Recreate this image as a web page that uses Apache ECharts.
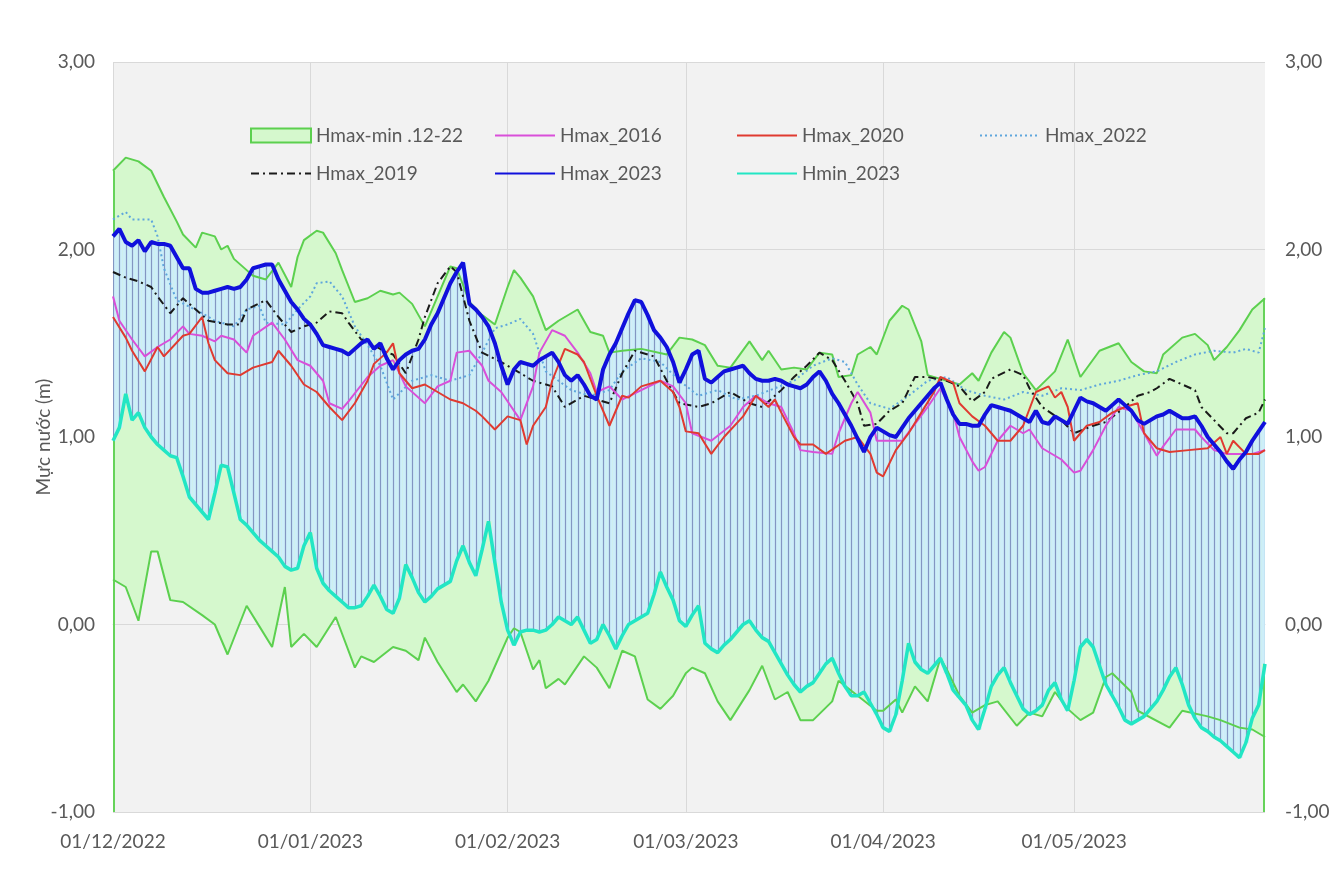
<!DOCTYPE html>
<html>
<head>
<meta charset="utf-8">
<script src="https://cdn.jsdelivr.net/npm/echarts@6/dist/echarts.min.js"></script>
<style>
  html, body { margin: 0; padding: 0; background: #fff; }
  #chart { width: 1339px; height: 896px; }
</style>
</head>
<body>
<div id="chart"></div>
<script>
// ngày: 01/12/2022 .. 31/05/2023
const days = [];
for (let i = 0; i < 182; i++) {
  const d = new Date(Date.UTC(2022, 11, 1 + i));
  const dd = String(d.getUTCDate()).padStart(2, '0');
  const mm = String(d.getUTCMonth() + 1).padStart(2, '0');
  days.push(dd + '/' + mm + '/' + d.getUTCFullYear());
}

// Hmax_2023, Hmin_2023 theo ngày
const hmax2023 = [
  2.07,2.11,2.04,2.02,2.05,1.99,2.04,2.03,2.03,2.02,
  1.96,1.90,1.90,1.79,1.77,1.77,1.78,1.79,1.80,1.79,
  1.80,1.84,1.90,1.91,1.92,1.92,1.84,1.78,1.72,1.68,
  1.63,1.60,1.55,1.49,1.48,1.47,1.46,1.44,1.47,1.50,
  1.52,1.47,1.50,1.42,1.36,1.41,1.44,1.46,1.47,1.52,
  1.60,1.66,1.74,1.82,1.88,1.93,1.71,1.68,1.64,1.59,
  1.50,1.38,1.28,1.36,1.40,1.39,1.38,1.41,1.43,1.45,
  1.40,1.33,1.30,1.33,1.28,1.22,1.20,1.36,1.44,1.50,
  1.58,1.66,1.73,1.72,1.65,1.57,1.53,1.48,1.40,1.29,
  1.36,1.44,1.46,1.31,1.29,1.32,1.35,1.36,1.37,1.38,
  1.34,1.31,1.30,1.30,1.31,1.30,1.28,1.27,1.26,1.28,
  1.32,1.35,1.30,1.23,1.18,1.12,1.06,0.99,0.92,1.00,
  1.05,1.03,1.01,1.00,1.05,1.10,1.14,1.18,1.22,1.26,
  1.29,1.20,1.12,1.07,1.07,1.06,1.06,1.12,1.17,1.16,
  1.15,1.14,1.12,1.10,1.08,1.14,1.08,1.07,1.11,1.09,
  1.07,1.14,1.21,1.19,1.18,1.16,1.14,1.17,1.20,1.17,
  1.14,1.09,1.07,1.09,1.11,1.12,1.14,1.12,1.10,1.10,
  1.11,1.06,1.00,0.96,0.92,0.87,0.83,0.88,0.92,0.98,
  1.03,1.08
];
const hmin2023 = [
  0.98,1.05,1.23,1.09,1.13,1.05,1.00,0.96,0.93,0.90,
  0.89,0.79,0.68,0.64,0.60,0.56,0.70,0.85,0.84,0.70,
  0.56,0.53,0.49,0.45,0.42,0.39,0.36,0.31,0.29,0.30,
  0.42,0.49,0.30,0.22,0.18,0.15,0.12,0.09,0.09,0.10,
  0.15,0.21,0.15,0.08,0.06,0.14,0.32,0.25,0.17,0.12,
  0.15,0.19,0.21,0.23,0.34,0.42,0.33,0.26,0.40,0.55,
  0.33,0.12,-0.03,-0.11,-0.04,-0.03,-0.03,-0.04,-0.03,0.00,
  0.04,0.02,0.00,0.04,-0.03,-0.10,-0.08,0.00,-0.06,-0.13,
  -0.06,0.00,0.02,0.04,0.06,0.16,0.28,0.20,0.13,0.02,
  -0.01,0.05,0.10,-0.10,-0.13,-0.15,-0.11,-0.08,-0.04,0.00,
  0.02,-0.03,-0.07,-0.09,-0.15,-0.21,-0.27,-0.32,-0.36,-0.33,
  -0.31,-0.26,-0.21,-0.18,-0.26,-0.33,-0.38,-0.38,-0.36,-0.42,
  -0.48,-0.55,-0.57,-0.48,-0.30,-0.10,-0.20,-0.24,-0.26,-0.22,
  -0.18,-0.26,-0.35,-0.39,-0.43,-0.51,-0.56,-0.45,-0.33,-0.27,
  -0.23,-0.31,-0.38,-0.45,-0.48,-0.46,-0.43,-0.35,-0.31,-0.40,
  -0.46,-0.30,-0.12,-0.08,-0.12,-0.22,-0.32,-0.38,-0.44,-0.51,
  -0.53,-0.51,-0.49,-0.45,-0.41,-0.35,-0.28,-0.23,-0.32,-0.43,
  -0.50,-0.55,-0.57,-0.60,-0.62,-0.65,-0.68,-0.71,-0.63,-0.50,
  -0.43,-0.21
];

// Dải Hmax-min 12-22: [chỉ số ngày, giá trị]
const bandTop = [
  [0,2.42],[2,2.49],[4,2.47],[6,2.42],[8,2.28],[10,2.15],[11,2.08],[13,2.01],[14,2.09],[16,2.07],
  [17,2.00],[18,2.02],[19,1.95],[21,1.89],[22,1.86],[24,1.84],[26,1.93],[28,1.80],[29,1.96],[30,2.05],
  [32,2.10],[33,2.09],[35,1.98],[36,1.89],[38,1.72],[40,1.74],[42,1.78],[44,1.76],[45,1.77],[47,1.71],
  [49,1.59],[51,1.75],[53,1.91],[54,1.90],[56,1.72],[58,1.65],[60,1.60],[62,1.80],[63,1.89],[64,1.85],
  [66,1.75],[68,1.57],[70,1.62],[73,1.68],[75,1.56],[77,1.54],[78,1.45],[80,1.46],[83,1.47],[87,1.44],
  [89,1.53],[91,1.52],[93,1.49],[95,1.38],[97,1.37],[100,1.51],[102,1.41],[103,1.46],[105,1.36],[107,1.37],
  [109,1.36],[111,1.45],[113,1.44],[114,1.32],[116,1.33],[117,1.44],[119,1.48],[120,1.44],[122,1.62],[124,1.70],
  [125,1.68],[127,1.51],[128,1.33],[130,1.31],[131,1.30],[133,1.28],[135,1.34],[136,1.30],[138,1.45],[140,1.56],
  [141,1.53],[143,1.34],[145,1.25],[148,1.35],[150,1.52],[152,1.32],[155,1.46],[158,1.50],[160,1.40],[162,1.35],
  [164,1.34],[165,1.44],[168,1.53],[170,1.55],[172,1.49],[173,1.41],[175,1.48],[177,1.57],[179,1.68],[181,1.74]
];
const bandBottom = [
  [0,0.24],[2,0.20],[4,0.02],[6,0.39],[7,0.39],[9,0.13],[11,0.12],[14,0.05],[16,0.00],[18,-0.16],
  [21,0.10],[23,-0.01],[25,-0.12],[27,0.20],[28,-0.12],[30,-0.05],[32,-0.12],[35,0.04],[38,-0.23],[39,-0.17],
  [41,-0.20],[44,-0.12],[46,-0.14],[48,-0.19],[49,-0.07],[51,-0.20],[54,-0.36],[55,-0.32],[57,-0.41],[59,-0.30],
  [62,-0.07],[63,-0.02],[64,-0.04],[66,-0.24],[67,-0.19],[68,-0.34],[70,-0.29],[71,-0.32],[74,-0.17],[76,-0.23],
  [78,-0.34],[80,-0.14],[82,-0.17],[84,-0.40],[86,-0.45],[88,-0.38],[90,-0.26],[91,-0.23],[93,-0.26],[95,-0.41],
  [97,-0.51],[100,-0.35],[102,-0.22],[104,-0.40],[106,-0.36],[108,-0.51],[110,-0.51],[113,-0.41],[114,-0.30],[117,-0.38],
  [120,-0.46],[121,-0.46],[123,-0.40],[124,-0.47],[126,-0.33],[128,-0.41],[130,-0.18],[131,-0.24],[133,-0.38],[135,-0.47],
  [137,-0.43],[139,-0.41],[142,-0.54],[144,-0.47],[146,-0.49],[148,-0.36],[150,-0.45],[152,-0.51],[154,-0.47],[156,-0.28],
  [157,-0.26],[160,-0.36],[161,-0.46],[166,-0.55],[168,-0.46],[172,-0.49],[174,-0.51],[177,-0.55],[179,-0.56],[181,-0.60]
];

// Các năm khác: [chỉ số ngày, giá trị]
const hmax2016 = [
  [0,1.75],[1,1.62],[3,1.52],[5,1.43],[7,1.48],[9,1.52],[11,1.59],[12,1.55],[14,1.54],[16,1.51],
  [17,1.54],[19,1.52],[21,1.45],[22,1.54],[25,1.61],[27,1.52],[29,1.41],[31,1.38],[33,1.30],[34,1.18],
  [36,1.15],[37,1.19],[40,1.32],[42,1.38],[44,1.41],[46,1.27],[49,1.18],[51,1.27],[53,1.30],[54,1.45],
  [56,1.46],[58,1.38],[59,1.30],[61,1.24],[64,1.09],[66,1.27],[67,1.45],[69,1.57],[71,1.54],[73,1.45],
  [75,1.34],[76,1.24],[78,1.27],[80,1.20],[83,1.25],[86,1.30],[88,1.27],[90,1.18],[91,1.02],[94,0.98],
  [97,1.06],[99,1.16],[101,1.22],[103,1.18],[105,1.16],[107,1.02],[108,0.93],[110,0.92],[113,0.91],[114,1.02],
  [116,1.18],[117,1.24],[119,1.13],[120,0.98],[122,0.98],[124,0.98],[126,1.07],[128,1.16],[130,1.26],[132,1.13],
  [133,1.00],[135,0.87],[136,0.82],[137,0.84],[139,0.98],[141,1.06],[143,1.02],[144,1.04],[146,0.94],[149,0.88],
  [151,0.81],[152,0.82],[154,0.93],[156,1.06],[158,1.16],[160,1.14],[162,1.02],[164,0.90],[165,0.95],[167,1.04],
  [170,1.04],[171,1.00],[173,0.93],[175,0.91],[177,0.91],[179,0.91],[181,0.93]
];
const hmax2020 = [
  [0,1.64],[2,1.53],[3,1.46],[5,1.35],[7,1.48],[8,1.43],[11,1.54],[12,1.55],[14,1.64],[15,1.50],
  [16,1.41],[18,1.34],[20,1.33],[22,1.37],[25,1.40],[26,1.46],[28,1.38],[30,1.28],[32,1.24],[34,1.16],
  [36,1.09],[38,1.18],[40,1.30],[41,1.39],[43,1.45],[44,1.50],[45,1.34],[47,1.26],[49,1.28],[51,1.24],
  [53,1.20],[55,1.18],[57,1.14],[58,1.11],[60,1.04],[62,1.11],[64,1.09],[65,0.96],[66,1.06],[68,1.16],
  [69,1.30],[71,1.47],[73,1.44],[74,1.40],[76,1.22],[77,1.14],[78,1.06],[80,1.22],[81,1.21],[83,1.27],
  [86,1.30],[88,1.24],[89,1.16],[90,1.03],[92,1.02],[94,0.91],[96,1.00],[99,1.11],[101,1.22],[103,1.16],
  [104,1.20],[105,1.13],[107,1.00],[108,0.96],[110,0.96],[112,0.91],[115,0.98],[117,1.00],[119,0.91],[120,0.81],
  [121,0.79],[123,0.93],[125,1.02],[127,1.13],[129,1.24],[130,1.32],[132,1.29],[133,1.18],[135,1.11],[137,1.06],
  [139,0.98],[141,0.98],[143,1.06],[145,1.24],[147,1.27],[148,1.21],[149,1.24],[150,1.16],[151,0.98],[153,1.06],
  [155,1.08],[157,1.13],[159,1.16],[161,1.18],[162,1.02],[164,0.94],[166,0.92],[169,0.93],[172,0.94],[174,1.00],
  [175,0.91],[176,0.98],[178,0.91],[180,0.91],[181,0.93]
];
const hmax2019 = [
  [0,1.88],[2,1.85],[4,1.83],[6,1.80],[7,1.75],[9,1.66],[11,1.74],[13,1.68],[15,1.62],[18,1.60],
  [20,1.60],[21,1.68],[24,1.73],[26,1.64],[28,1.56],[30,1.59],[32,1.61],[34,1.67],[36,1.66],[37,1.61],
  [39,1.52],[41,1.49],[43,1.45],[44,1.44],[46,1.34],[48,1.52],[49,1.64],[51,1.82],[53,1.91],[54,1.88],
  [56,1.62],[58,1.45],[61,1.40],[64,1.34],[66,1.30],[69,1.27],[71,1.16],[74,1.22],[78,1.18],[80,1.34],
  [82,1.46],[85,1.43],[87,1.30],[89,1.18],[92,1.16],[94,1.18],[97,1.24],[100,1.18],[102,1.16],[105,1.25],
  [107,1.32],[109,1.38],[111,1.45],[113,1.41],[115,1.30],[117,1.18],[118,1.06],[120,1.07],[122,1.14],[124,1.18],
  [126,1.32],[128,1.32],[131,1.30],[133,1.27],[135,1.19],[137,1.24],[138,1.31],[141,1.36],[143,1.33],[144,1.26],
  [146,1.16],[149,1.09],[151,1.02],[154,1.06],[156,1.08],[159,1.16],[161,1.22],[163,1.24],[164,1.26],[166,1.31],
  [168,1.28],[170,1.25],[171,1.16],[173,1.09],[175,1.02],[176,1.02],[178,1.10],[180,1.13],[181,1.20]
];
const hmax2022 = [
  [0,2.16],[2,2.20],[3,2.16],[6,2.16],[7,2.07],[8,1.90],[10,1.73],[14,1.66],[16,1.62],[19,1.59],
  [21,1.68],[23,1.70],[24,1.61],[27,1.60],[29,1.68],[31,1.75],[32,1.82],[34,1.83],[36,1.75],[38,1.59],
  [40,1.49],[42,1.38],[44,1.20],[47,1.30],[50,1.33],[53,1.30],[56,1.33],[58,1.45],[60,1.58],[62,1.60],
  [64,1.63],[66,1.55],[68,1.35],[70,1.30],[72,1.25],[75,1.22],[78,1.25],[80,1.35],[83,1.42],[86,1.40],
  [89,1.30],[92,1.22],[95,1.25],[98,1.20],[101,1.22],[104,1.26],[107,1.30],[110,1.38],[113,1.42],[115,1.40],
  [117,1.28],[119,1.18],[122,1.15],[125,1.22],[128,1.30],[131,1.32],[134,1.25],[137,1.22],[140,1.20],[143,1.24],
  [146,1.22],[149,1.26],[152,1.25],[155,1.28],[158,1.30],[161,1.33],[164,1.35],[167,1.40],[170,1.44],[173,1.46],
  [176,1.45],[178,1.47],[180,1.45],[181,1.58]
];

const yMin = -1, yMax = 3;
const textColor = '#595959';
const font = 'Lato';
const fontSize = 19;
const monthStart = (i, v) => v.slice(0, 3) === '01/';
const fmt = v => v.toFixed(2).replace('.', ',');

const chart = echarts.init(document.getElementById('chart'));

// mỗi mục chú thích đặt riêng một chỗ, như bảng 4 cột
function legendAt(item, left, top) {
  return {
    data: [item], left: left, top: top, selectedMode: false,
    itemWidth: 60, itemHeight: 13, itemGap: 0,
    itemStyle: { opacity: 0 },
    textStyle: { color: textColor, fontSize: fontSize, fontFamily: font }
  };
}

const bandName = 'Hmax-min .12-22';

const option = {
  animation: false,
  backgroundColor: '#fff',
  legend: [
    {
      data: [{ name: bandName, icon: 'rect' }], left: 245, top: 121, selectedMode: false,
      itemWidth: 60, itemHeight: 14, itemGap: 0,
      itemStyle: { color: '#d5f8cd', borderColor: '#5cd04f', borderWidth: 2 },
      textStyle: { color: textColor, fontSize: fontSize, fontFamily: font }
    },
    legendAt('Hmax_2016', 489, 121),
    legendAt('Hmax_2020', 731, 121),
    legendAt('Hmax_2022', 974, 121),
    legendAt('Hmax_2019', 245, 159),
    legendAt('Hmax_2023', 489, 159),
    legendAt('Hmin_2023', 731, 159)
  ],
  grid: {
    left: 113, right: 74, top: 62, bottom: 84,
    show: true, backgroundColor: '#f2f2f2', borderWidth: 0
  },
  xAxis: {
    type: 'category',
    data: days,
    boundaryGap: false,
    axisLine: { lineStyle: { color: '#d9d9d9' } },
    axisTick: { show: true, interval: monthStart, length: 5, lineStyle: { color: '#d9d9d9' } },
    axisLabel: { interval: monthStart, color: textColor, fontSize: fontSize, fontFamily: font, margin: 20 },
    splitLine: { show: true, interval: monthStart, lineStyle: { color: '#d9d9d9', width: 1 } }
  },
  yAxis: [
    {
      type: 'value', min: yMin, max: yMax, interval: 1,
      name: 'Mực nước (m)', nameLocation: 'middle', nameGap: 60, nameMoveOverlap: false,
      nameTextStyle: { color: textColor, fontSize: fontSize, fontFamily: font },
      axisLine: { show: false }, axisTick: { show: false },
      axisLabel: { formatter: fmt, color: textColor, fontSize: fontSize, fontFamily: font, margin: 18 },
      splitLine: { lineStyle: { color: '#d9d9d9', width: 1 } }
    },
    {
      type: 'value', min: yMin, max: yMax, interval: 1, position: 'right',
      axisLine: { show: false }, axisTick: { show: false },
      axisLabel: { formatter: fmt, color: textColor, fontSize: fontSize, fontFamily: font, margin: 20 },
      splitLine: { show: false }
    }
  ],
  series: [
    {
      // vùng Hmax-min 2012-2022
      name: bandName,
      type: 'custom',
      z: 1,
      silent: true,
      itemStyle: { color: '#d5f8cd', borderColor: '#5cd04f' },
      data: [[0, bandTop[0][1]]],
      renderItem: function (params, api) {
        const upper = bandTop.map(p => api.coord(p));
        const lower = bandBottom.map(p => api.coord(p)).reverse();
        const first = bandTop[0], last = bandTop[bandTop.length - 1];
        const a0 = api.coord([first[0], yMin]), a1 = api.coord(first);
        const b0 = api.coord([last[0], yMin]), b1 = api.coord(last);
        return {
          type: 'group',
          children: [
            { type: 'polygon', shape: { points: upper.concat(lower) }, style: { fill: '#d5f8cd' } },
            { type: 'line', shape: { x1: a0[0] + 1, y1: a0[1], x2: a1[0] + 1, y2: a1[1] },
              style: { stroke: '#66d35a', lineWidth: 2 } },
            { type: 'line', shape: { x1: b0[0] - 1, y1: b0[1], x2: b1[0] - 1, y2: b1[1] },
              style: { stroke: '#66d35a', lineWidth: 2 } }
          ]
        };
      }
    },
    {
      // cột Hmin - Hmax 2023 từng ngày
      name: 'range2023',
      type: 'custom',
      z: 2,
      silent: true,
      clip: true,
      encode: { x: 0, y: [1, 2] },
      data: hmax2023.map((v, i) => [i, hmin2023[i], v]),
      renderItem: function (params, api) {
        const i = api.value(0);
        const top = api.coord([i, api.value(2)]);
        const bot = api.coord([i, api.value(1)]);
        const w = api.size([1, 0])[0];
        const x = Math.round(top[0]) + 0.5;
        return {
          type: 'group',
          children: [
            { type: 'rect', shape: { x: top[0] - w / 2, y: top[1], width: w, height: bot[1] - top[1] },
              style: { fill: '#cdeef9' } },
            { type: 'line', shape: { x1: x, y1: top[1], x2: x, y2: bot[1] },
              style: { stroke: '#8396c2', lineWidth: 1.2 } }
          ]
        };
      }
    },
    {
      name: 'bandTopLine', type: 'line', z: 3, symbol: 'none', silent: true,
      data: bandTop, lineStyle: { color: '#5cd04f', width: 2 }
    },
    {
      name: 'bandBottomLine', type: 'line', z: 3, symbol: 'none', silent: true,
      data: bandBottom, lineStyle: { color: '#5cd04f', width: 2 }
    },
    {
      name: 'Hmax_2022', type: 'line', z: 4, symbol: 'none',
      data: hmax2022, itemStyle: { color: '#5ea6dc' },
      lineStyle: { color: '#5ea6dc', width: 2, type: [2, 3] }
    },
    {
      name: 'Hmax_2019', type: 'line', z: 4, symbol: 'none',
      data: hmax2019, itemStyle: { color: '#1a1a1a' },
      lineStyle: { color: '#1a1a1a', width: 2, type: [8, 4, 2, 4] }
    },
    {
      name: 'Hmax_2016', type: 'line', z: 4, symbol: 'none',
      data: hmax2016, itemStyle: { color: '#d94fd9' },
      lineStyle: { color: '#d94fd9', width: 2 }
    },
    {
      name: 'Hmax_2020', type: 'line', z: 4, symbol: 'none',
      data: hmax2020, itemStyle: { color: '#e03a30' },
      lineStyle: { color: '#e03a30', width: 2 }
    },
    {
      name: 'Hmin_2023', type: 'line', z: 5, symbol: 'none',
      data: hmin2023, itemStyle: { color: '#22e6c4' },
      lineStyle: { color: '#22e6c4', width: 3.5 }
    },
    {
      name: 'Hmax_2023', type: 'line', z: 5, symbol: 'none',
      data: hmax2023, itemStyle: { color: '#1010dc' },
      lineStyle: { color: '#1010dc', width: 4 }
    }
  ]
};

chart.setOption(option);
</script>
</body>
</html>
